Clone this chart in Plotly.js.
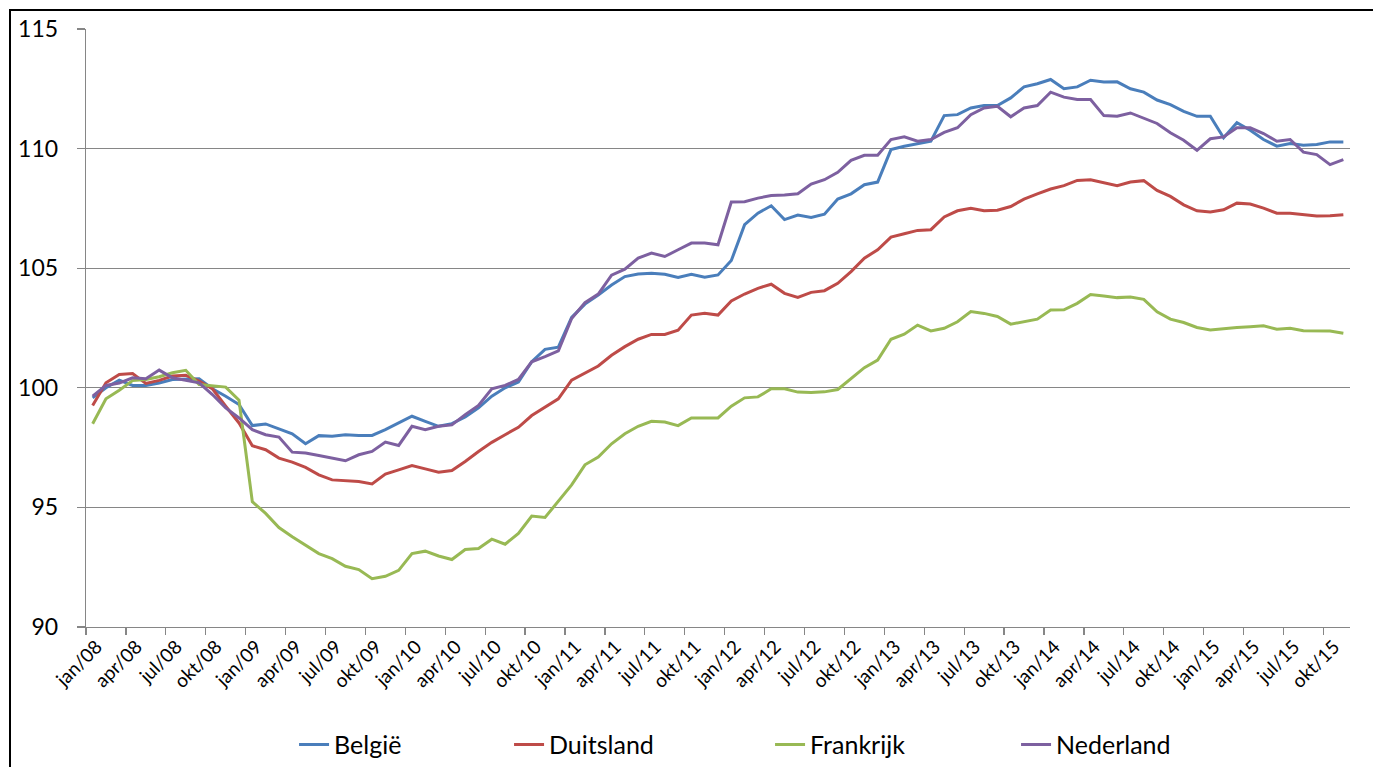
<!DOCTYPE html>
<html>
<head>
<meta charset="utf-8">
<script src="https://cdn.plot.ly/plotly-3.0.1.min.js"></script>
<style>
  html, body { margin: 0; padding: 0; background: #ffffff; overflow: hidden; }
  #wrap { position: relative; width: 1373px; height: 767px; }
  #chart { position: absolute; left: 0; top: 0; width: 1373px; height: 767px; }
  #frame { position: absolute; left: 9px; top: 9px; width: 2000px; height: 2000px;
           border-left: 2px solid #000; border-top: 2px solid #000; pointer-events: none; }
</style>
</head>
<body>
<div id="wrap">
  <div id="chart"></div>
  <div id="frame"></div>
</div>
<script>
// Month categories: jan/08 .. nov/15
const monthNames = ["jan","feb","mrt","apr","mei","jun","jul","aug","sep","okt","nov","dec"];
const years = ["08","09","10","11","12","13","14","15"];
const months = [];
years.forEach(y => monthNames.forEach(m => months.push(m + "/" + y)));
months.length = 95;

const belgie = [99.58,100.0,100.32,100.1,100.1,100.2,100.35,100.35,100.38,99.96,99.65,99.3,
  98.42,98.49,98.28,98.08,97.66,98.0,97.97,98.04,98.01,98.01,98.25,98.53,
  98.81,98.6,98.39,98.5,98.78,99.16,99.65,100.0,100.24,101.09,101.61,101.7,
  102.94,103.5,103.88,104.3,104.65,104.76,104.79,104.75,104.61,104.75,104.62,104.72,
  105.32,106.82,107.3,107.61,107.03,107.22,107.12,107.26,107.89,108.11,108.49,108.6,
  109.96,110.1,110.21,110.31,111.38,111.42,111.7,111.8,111.8,112.12,112.58,112.71,
  112.89,112.5,112.58,112.86,112.78,112.79,112.5,112.36,112.03,111.84,111.56,111.35,
  111.35,110.45,111.08,110.77,110.38,110.1,110.21,110.14,110.17,110.28,110.28];

const duitsland = [99.26,100.21,100.56,100.6,100.18,100.31,100.49,100.52,100.28,99.96,99.23,98.53,
  97.58,97.41,97.06,96.89,96.67,96.36,96.15,96.1,96.08,95.98,96.39,96.57,
  96.75,96.61,96.47,96.54,96.92,97.34,97.72,98.04,98.35,98.84,99.2,99.54,
  100.32,100.63,100.91,101.36,101.72,102.03,102.23,102.23,102.41,103.04,103.12,103.04,
  103.63,103.92,104.16,104.33,103.95,103.78,103.99,104.06,104.37,104.86,105.42,105.77,
  106.3,106.44,106.58,106.61,107.14,107.4,107.51,107.4,107.42,107.58,107.89,108.11,
  108.31,108.45,108.67,108.7,108.56,108.45,108.6,108.66,108.25,108.0,107.65,107.4,
  107.35,107.44,107.72,107.68,107.51,107.3,107.3,107.23,107.18,107.19,107.23];

const frankrijk = [98.5,99.54,99.9,100.3,100.35,100.46,100.63,100.73,100.14,100.07,100.03,99.48,
  95.24,94.75,94.16,93.77,93.42,93.07,92.86,92.54,92.4,92.02,92.12,92.37,
  93.07,93.17,92.97,92.82,93.24,93.28,93.67,93.46,93.91,94.64,94.58,95.24,
  95.94,96.78,97.1,97.66,98.08,98.39,98.6,98.57,98.42,98.74,98.74,98.74,
  99.23,99.58,99.62,99.96,99.96,99.82,99.8,99.83,99.93,100.38,100.84,101.16,
  102.03,102.24,102.62,102.38,102.49,102.76,103.19,103.11,102.98,102.66,102.77,102.87,
  103.25,103.26,103.53,103.9,103.84,103.77,103.8,103.7,103.18,102.87,102.73,102.52,
  102.42,102.48,102.52,102.55,102.59,102.45,102.49,102.39,102.37,102.37,102.28];

const nederland = [99.65,100.1,100.2,100.42,100.38,100.74,100.42,100.32,100.21,99.72,99.16,98.74,
  98.25,98.04,97.94,97.31,97.27,97.17,97.06,96.95,97.2,97.34,97.73,97.59,
  98.39,98.25,98.39,98.45,98.88,99.26,99.96,100.1,100.35,101.09,101.3,101.54,
  102.9,103.56,103.92,104.71,104.96,105.42,105.63,105.49,105.77,106.05,106.05,105.98,
  107.77,107.78,107.93,108.04,108.06,108.11,108.52,108.7,109.01,109.51,109.72,109.72,
  110.38,110.49,110.31,110.38,110.68,110.87,111.42,111.7,111.77,111.33,111.7,111.8,
  112.36,112.15,112.05,112.05,111.38,111.35,111.49,111.28,111.05,110.66,110.35,109.93,
  110.41,110.49,110.87,110.87,110.63,110.31,110.38,109.85,109.75,109.33,109.54];

const seriesNames = ["België","Duitsland","Frankrijk","Nederland"];
const seriesColors = ["#4A7EBB","#BE4B48","#98B954","#7D60A0"];
const seriesValues = [belgie, duitsland, frankrijk, nederland];
const legendWidths = [170, 216, 201, 200];

const yTicks = [90, 95, 100, 105, 110, 115];

const idx = months.map((m, i) => i);
const labelIdx = idx.filter(i => i % 3 === 0);
const labelText = labelIdx.map(i => months[i]);
const boundaryTicks = labelIdx.map(i => i - 0.5);

const traces = seriesValues.map((vals, k) => ({
  type: "scatter",
  mode: "lines",
  name: seriesNames[k],
  x: idx,
  y: vals,
  text: months,
  legendwidth: legendWidths[k],
  line: { color: seriesColors[k], width: 3 },
  hoverinfo: "text+y+name"
}));

const layout = {
  width: 1373,
  height: 767,
  margin: { l: 86, r: 23, t: 29, b: 140, autoexpand: false },
  paper_bgcolor: "#ffffff",
  plot_bgcolor: "#ffffff",
  font: { family: "Lato, 'Liberation Sans', sans-serif", color: "#000000" },
  showlegend: true,
  legend: {
    orientation: "h",
    x: 0.1646, xanchor: "left",
    y: -0.197, yanchor: "middle",
    font: { size: 25, family: "Lato, sans-serif", color: "#000" },
    bgcolor: "rgba(0,0,0,0)"
  },
  xaxis: {
    type: "linear",
    range: [-0.5, months.length - 0.5],
    automargin: false,
    tickmode: "array",
    tickvals: labelIdx,
    ticktext: labelText,
    tickangle: -45,
    ticks: "",
    ticklabelshift: 4,
    tickfont: { size: 19, family: "Lato, sans-serif", color: "#000" },
    showgrid: false,
    zeroline: false,
    showline: true,
    linecolor: "#868686",
    linewidth: 1.3,
    minor: {
      tickmode: "array",
      tickvals: boundaryTicks,
      ticks: "outside",
      ticklen: 7,
      tickwidth: 1.3,
      tickcolor: "#868686",
      showgrid: false
    },
    fixedrange: true
  },
  yaxis: {
    range: [90, 115],
    automargin: false,
    tickmode: "array",
    tickvals: yTicks,
    ticktext: yTicks.map(String),
    ticks: "outside",
    ticklen: 8,
    tickwidth: 1.3,
    tickcolor: "#868686",
    ticklabelstandoff: 14,
    tickfont: { size: 23, family: "Lato, sans-serif", color: "#000" },
    showgrid: true,
    gridcolor: "#868686",
    gridwidth: 1.3,
    zeroline: false,
    showline: true,
    linecolor: "#868686",
    linewidth: 1.3,
    fixedrange: true
  }
};

Plotly.newPlot("chart", traces, layout, { displayModeBar: false, staticPlot: true });
</script>
</body>
</html>
